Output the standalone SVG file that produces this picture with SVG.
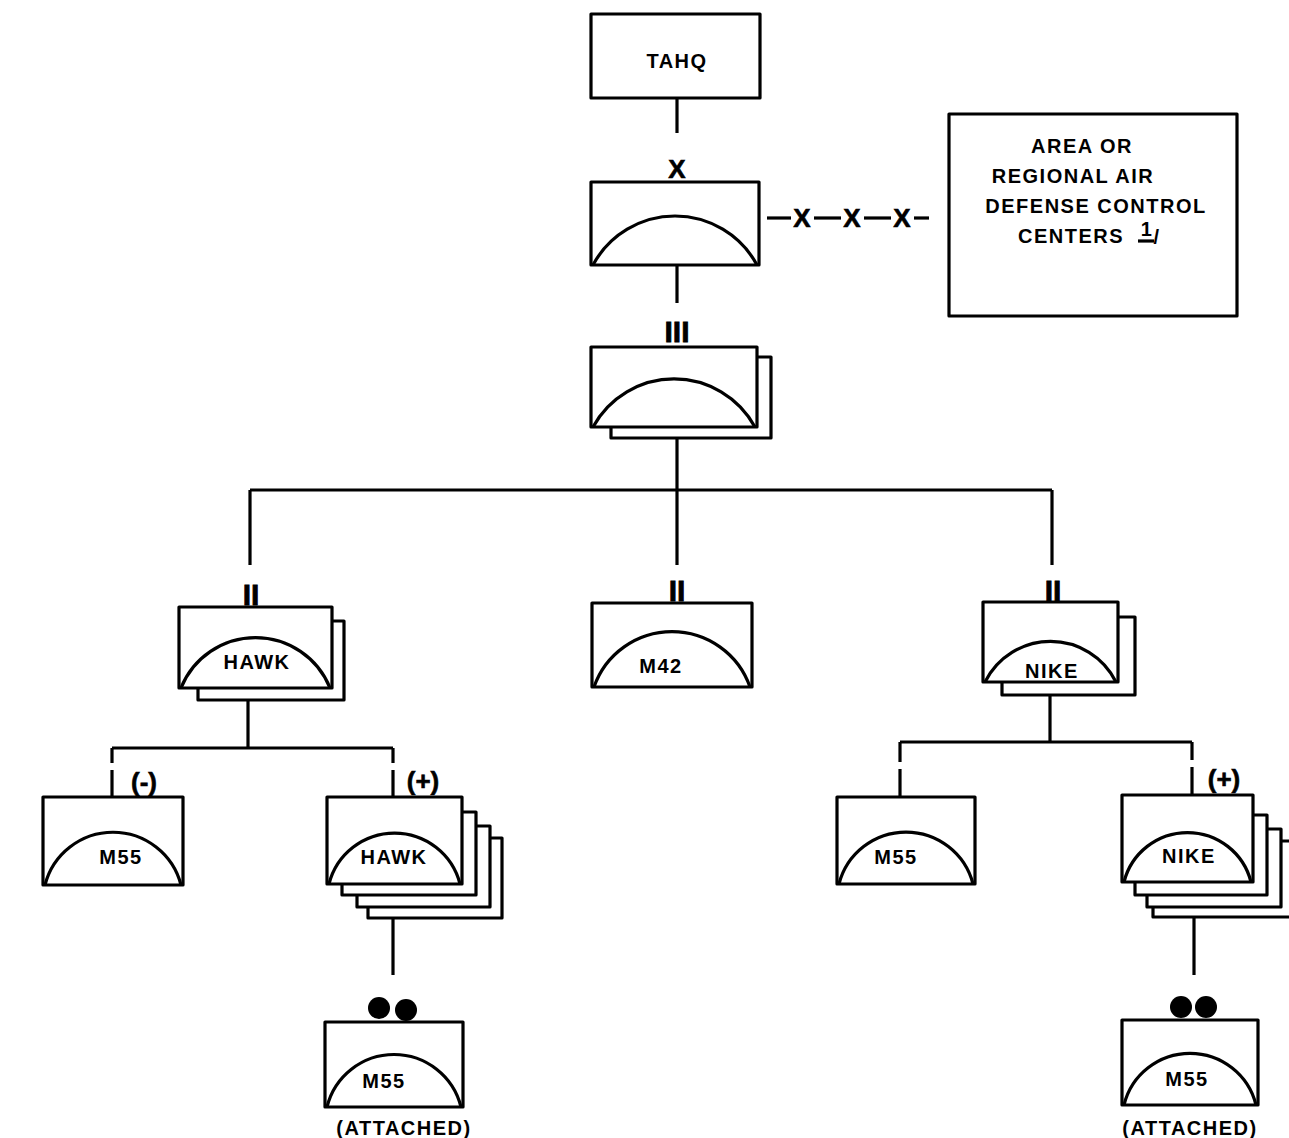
<svg xmlns="http://www.w3.org/2000/svg" width="1289" height="1138" viewBox="0 0 1289 1138">
<style>
.bx{fill:#fff;stroke:#000;stroke-width:3.2;stroke-linejoin:round}
.ar{fill:none;stroke:#000;stroke-width:3.2}
.ln{fill:none;stroke:#000;stroke-width:3.2}
.t{font-family:"Liberation Sans",Arial,sans-serif;font-weight:bold;font-size:20px;text-anchor:middle;letter-spacing:1.5px;fill:#000}
.ech{font-family:"Liberation Sans",Arial,sans-serif;font-weight:bold;font-size:30px;text-anchor:middle;fill:#000;stroke:#000;stroke-width:0.8}
.pm{font-family:"Liberation Sans",Arial,sans-serif;font-weight:bold;font-size:26px;text-anchor:middle;fill:#000;stroke:#000;stroke-width:0.6}
</style>
<rect width="1289" height="1138" fill="#fff"/>
<g id="connectors">
<line class="ln" x1="677" y1="98" x2="677" y2="133"/>
<line class="ln" x1="677" y1="265" x2="677" y2="303"/>
<line class="ln" x1="677" y1="438" x2="677" y2="565"/>
<line class="ln" x1="250" y1="490" x2="1052" y2="490"/>
<line class="ln" x1="250" y1="490" x2="250" y2="565"/>
<line class="ln" x1="1052" y1="490" x2="1052" y2="565"/>
<line class="ln" x1="248" y1="700" x2="248" y2="748"/>
<line class="ln" x1="112" y1="748" x2="393" y2="748"/>
<line class="ln" x1="112" y1="748" x2="112" y2="763"/>
<line class="ln" x1="112" y1="770" x2="112" y2="797" stroke-width="4.5"/>
<line class="ln" x1="393" y1="748" x2="393" y2="763"/>
<line class="ln" x1="393" y1="770" x2="393" y2="797" stroke-width="4.5"/>
<line class="ln" x1="1050" y1="695" x2="1050" y2="742"/>
<line class="ln" x1="900" y1="742" x2="1192" y2="742"/>
<line class="ln" x1="900" y1="742" x2="900" y2="762"/>
<line class="ln" x1="900" y1="769" x2="900" y2="797" stroke-width="4.5"/>
<line class="ln" x1="1192" y1="742" x2="1192" y2="760"/>
<line class="ln" x1="1192" y1="767" x2="1192" y2="795" stroke-width="4.5"/>
<line class="ln" x1="393" y1="918" x2="393" y2="975"/>
<line class="ln" x1="1194" y1="917" x2="1194" y2="975"/>
<g id="xline">
<line class="ln" x1="767" y1="218" x2="791" y2="218"/>
<line class="ln" x1="814" y1="218" x2="841" y2="218"/>
<line class="ln" x1="864" y1="218" x2="891" y2="218"/>
<line class="ln" x1="914" y1="218" x2="929" y2="218"/>
<text class="pm" x="802" y="227" font-size="24">X</text>
<text class="pm" x="852" y="227" font-size="24">X</text>
<text class="pm" x="902" y="227" font-size="24">X</text>
</g>
</g>
<g id="tahq">
<rect class="bx" x="591" y="14" width="169" height="84"/>
<text class="t" x="677" y="68" font-size="21">TAHQ</text>
</g>
<g id="brigade">
<text class="pm" x="677" y="178" font-size="24">X</text>
<rect class="bx" x="591" y="182" width="168" height="83"/>
<path class="ar" d="M593 265 A93.1 93.1 0 0 1 757 265"/>
</g>
<g id="area">
<rect class="bx" x="949" y="114" width="288" height="202"/>
<text class="t" x="1082" y="153" font-size="21">AREA OR</text>
<text class="t" x="1073" y="183" font-size="21">REGIONAL AIR</text>
<text class="t" x="1096" y="213" font-size="21">DEFENSE CONTROL</text>
<text class="t" x="1018" y="243" font-size="21" style="text-anchor:start">CENTERS</text>
<text class="t" x="1147" y="236" font-size="14" letter-spacing="0">1</text>
<text class="t" x="1157" y="244" font-size="26" letter-spacing="0" font-weight="normal">/</text>
<line class="ln" x1="1138" y1="241" x2="1154" y2="241" stroke-width="2.5"/>
</g>
<g id="group">
<text class="ech" x="677" y="342" font-size="28">III</text>
<rect class="bx" x="611" y="357" width="160" height="81"/>
<rect class="bx" x="591" y="347" width="166" height="80"/>
<path class="ar" d="M593 427 A92.2 92.2 0 0 1 755 427"/>
</g>
<g id="hawk-bn">
<text class="ech" x="251" y="605">II</text>
<rect class="bx" x="198" y="621" width="146" height="79"/>
<rect class="bx" x="179" y="607" width="153" height="81"/>
<path class="ar" d="M181 688 A80.3 80.3 0 0 1 330 688"/>
<text class="t" x="257" y="669">HAWK</text>
</g>
<g id="m42-bn">
<text class="ech" x="677" y="601">II</text>
<rect class="bx" x="592" y="603" width="160" height="84"/>
<path class="ar" d="M594 687 A82.6 82.6 0 0 1 750 687"/>
<text class="t" x="661" y="673">M42</text>
</g>
<g id="nike-bn">
<text class="ech" x="1053" y="601">II</text>
<rect class="bx" x="1002" y="617" width="133" height="78"/>
<rect class="bx" x="983" y="602" width="135" height="80"/>
<path class="ar" d="M985 682 A73.1 73.1 0 0 1 1116 682"/>
<text class="t" x="1052" y="678" letter-spacing="3">NIKE</text>
</g>
<g id="m55-left">
<text class="pm" x="144" y="791">(-)</text>
<rect class="bx" x="43" y="797" width="140" height="88"/>
<path class="ar" d="M45 885 A70.2 70.2 0 0 1 181 885"/>
<text class="t" x="121" y="864" letter-spacing="1">M55</text>
</g>
<g id="hawk-btry">
<text class="pm" x="423" y="790">(+)</text>
<rect class="bx" x="368" y="838" width="134" height="80"/>
<rect class="bx" x="357" y="826" width="133" height="81"/>
<rect class="bx" x="342" y="812" width="134" height="83"/>
<rect class="bx" x="327" y="797" width="135" height="87"/>
<path class="ar" d="M329 884 A67.6 67.6 0 0 1 460 884"/>
<text class="t" x="394" y="864">HAWK</text>
</g>
<g id="m55-right">
<rect class="bx" x="837" y="797" width="138" height="87"/>
<path class="ar" d="M839 884 A69.2 69.2 0 0 1 973 884"/>
<text class="t" x="896" y="864" letter-spacing="1">M55</text>
</g>
<g id="nike-btry">
<text class="pm" x="1224" y="788">(+)</text>
<rect class="bx" x="1153" y="841" width="142" height="76"/>
<rect class="bx" x="1147" y="829" width="134" height="78"/>
<rect class="bx" x="1135" y="815" width="132" height="80"/>
<rect class="bx" x="1122" y="795" width="131" height="87"/>
<path class="ar" d="M1124 882 A65.5 65.5 0 0 1 1251 882"/>
<text class="t" x="1189" y="863" letter-spacing="3">NIKE</text>
</g>
<g id="m55-att-left">
<circle cx="379" cy="1008" r="11"/>
<circle cx="406" cy="1010" r="11"/>
<rect class="bx" x="325" y="1022" width="138" height="85"/>
<path class="ar" d="M327 1107 A69 69 0 0 1 461 1107"/>
<text class="t" x="384" y="1088" letter-spacing="1">M55</text>
<text class="t" x="404" y="1135" font-size="21" letter-spacing="2">(ATTACHED)</text>
</g>
<g id="m55-att-right">
<circle cx="1181" cy="1007" r="11"/>
<circle cx="1206" cy="1007" r="11"/>
<rect class="bx" x="1122" y="1020" width="136" height="85"/>
<path class="ar" d="M1124 1105 A68 68 0 0 1 1256 1105"/>
<text class="t" x="1187" y="1086" letter-spacing="1">M55</text>
<text class="t" x="1190" y="1135" font-size="21" letter-spacing="2">(ATTACHED)</text>
</g>
</svg>
